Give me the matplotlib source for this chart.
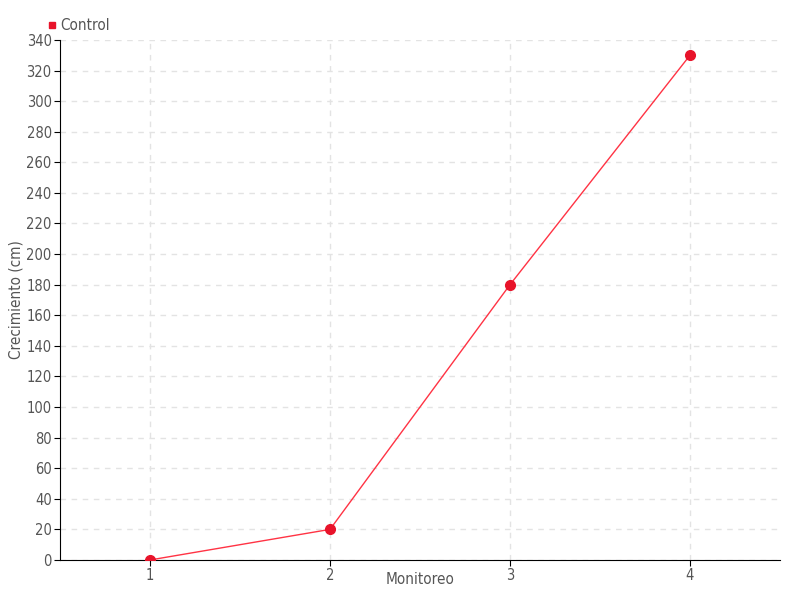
import matplotlib
matplotlib.use('agg')
import matplotlib.pyplot as plt

monitoreo = ["1", "2", "3", "4"]
control = [0, 20, 180, 330]

plt.rcParams['font.family'] = ['DejaVu Sans']
plt.rcParams['font.stretch'] = 'condensed'
txt = '#555555'

fig = plt.figure(figsize=(8, 6), dpi=100)
ax = fig.add_axes([0.075, 0.0667, 0.9, 0.8667])

x = list(range(len(monitoreo)))
ax.plot(x, control, color='#ff3344', lw=1, marker='o', ms=7,
        mfc='#e8132a', mec='#e8132a', label='Control', zorder=3)

ax.set_xlim(-0.5, 3.5)
ax.set_ylim(0, 340)
ax.set_xticks(x)
ax.set_xticklabels(monitoreo)
ax.set_yticks(range(0, 341, 20))
ax.grid(True, color='#e3e3e3', ls=(0, (4, 4)), lw=1)
for s in ['top', 'right']:
    ax.spines[s].set_visible(False)
for s in ['left', 'bottom']:
    ax.spines[s].set_color('black')
ax.tick_params(colors=txt, labelsize=10.5, length=4, pad=2)
ax.tick_params(axis='both', color='black')
ax.set_xlabel('Monitoreo', color=txt, fontsize=11)
ax.set_ylabel('Crecimiento (cm)', color=txt, fontsize=11)
ax.yaxis.set_label_coords(-0.05, 0.5)
ax.xaxis.set_label_coords(0.5, -0.024)

h = plt.Line2D([], [], color='#e8132a', marker='s', ls='none', ms=5)
fig.legend([h], ['Control'], loc='upper left', bbox_to_anchor=(0.043, 0.993),
           frameon=False, handlelength=0.5, handletextpad=0.3,
           fontsize=11, labelcolor=txt)

fig.savefig('out.png')
